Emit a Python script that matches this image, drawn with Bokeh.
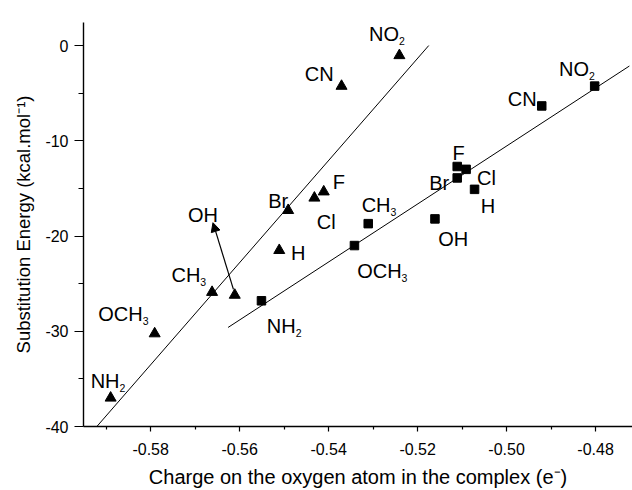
from bokeh.plotting import figure
from bokeh.models import Range1d, FixedTicker, Arrow, NormalHead, ColumnDataSource
from bokeh.core.properties import value
from bokeh.embed import file_html
from bokeh.resources import INLINE

# ---- data ----
substituents = ["NH2", "OCH3", "CH3", "OH", "H", "Br", "Cl", "F", "CN", "NO2"]

# triangles (series 1)
tri_x = [-0.5890, -0.5791, -0.5662, -0.5611, -0.5511, -0.5491, -0.5432, -0.5411, -0.5371, -0.5241]
tri_y = [-37.0, -30.25, -25.9, -26.2, -21.5, -17.3, -16.0, -15.35, -4.26, -1.04]

# squares (series 2)
sq_x = [-0.5551, -0.5342, -0.5311, -0.5161, -0.5072, -0.5111, -0.5091, -0.5111, -0.4921, -0.4802]
sq_y = [-26.8, -21.0, -18.7, -18.2, -15.1, -13.9, -13.0, -12.7, -6.34, -4.26]

# fitted lines (end points)
tri_fit_x = [-0.5921, -0.5175]
tri_fit_y = [-40.0, 0.0]
sq_fit_x = [-0.5626, -0.4724]
sq_fit_y = [-29.6, -2.15]

# arrow pointing from the OH triangle to its label
oh_arrow_x = [-0.5614, -0.5660]
oh_arrow_y = [-25.6, -18.6]

x_ticks = [-0.58, -0.56, -0.54, -0.52, -0.50, -0.48]
y_ticks = [-40, -30, -20, -10, 0]

# ---- label placement (screen px, style) ----
tri_dx = [-20, -56.4, -40.6, -46.7, 11.7, -20, 2.4, 9, -36.7, -30.3]
tri_dy = [-17.4, -19.3, -17.6, -80, 2.6, -9, 23.7, -9.4, -12, -21.7]
sq_dx = [5.4, 2.7, -6.6, 3.3, 6.3, -28, 11, -4.6, -34, -35.7]
sq_dy = [25.6, 25, -18.3, 20, 16.7, 5.3, 8.7, -13.3, -6.7, -16.7]

FONT = "Liberation Sans"
LBL = 20
SUB = 10.5
ARIAL_W = {"N": 0.722, "H": 0.722, "O": 0.778, "C": 0.722}


def split(s):
    if s[-1].isdigit():
        return s[:-1], s[-1]
    return s, ""


p = figure(width=632, height=490, output_backend="svg", toolbar_location=None,
           x_range=Range1d(-0.5951, -0.4717), y_range=Range1d(-40, 2.42),
           min_border_left=83, min_border_right=0, min_border_top=22, min_border_bottom=60)
p.outline_line_color = None
p.xgrid.visible = False
p.ygrid.visible = False
p.background_fill_color = "white"
p.border_fill_color = "white"

p.xaxis.ticker = FixedTicker(ticks=x_ticks, minor_ticks=[-0.59, -0.57, -0.55, -0.53, -0.51, -0.49, -0.47])
p.yaxis.ticker = FixedTicker(ticks=y_ticks, minor_ticks=[-35, -25, -15, -5])
p.xaxis.major_label_overrides = {t: f"{t:.2f}" for t in x_ticks}
p.yaxis.major_label_overrides = {t: f"{t}" for t in y_ticks}

for ax in (p.xaxis, p.yaxis):
    ax.axis_line_color = "black"
    ax.axis_line_width = 1.4
    ax.major_tick_line_color = "black"
    ax.minor_tick_line_color = "black"
    ax.major_tick_line_width = 1.2
    ax.minor_tick_line_width = 1.2
    ax.major_tick_in = 0
    ax.minor_tick_in = 0
    ax.major_label_text_font = FONT
    ax.major_label_text_font_size = "16px"
    ax.major_label_text_color = "black"
    ax.axis_label_text_font = FONT
    ax.axis_label_text_font_style = "normal"
    ax.axis_label_text_color = "black"

p.xaxis.axis_label_text_font_size = "20px"
p.yaxis.axis_label_text_font_size = "18.5px"
p.xaxis.major_tick_out = 5
p.xaxis.minor_tick_out = 3
p.yaxis.major_tick_out = 9
p.yaxis.minor_tick_out = 5
p.xaxis.major_label_standoff = 11
p.yaxis.major_label_standoff = 6
p.xaxis.axis_label_standoff = 8
p.yaxis.axis_label_standoff = 8
p.xaxis.axis_label = "Charge on the oxygen atom in the complex (e\u207b)"
p.yaxis.axis_label = "Substitution Energy (kcal.mol\u207b\u00b9)"

# fit lines
p.line(tri_fit_x, tri_fit_y, line_color="black", line_width=1)
p.line(sq_fit_x, sq_fit_y, line_color="black", line_width=1)

# markers
p.scatter(tri_x, tri_y, marker="triangle", size=11, fill_color="black", line_color="black")
p.scatter(sq_x, sq_y, marker="square", size=8.5, fill_color="black", line_color="black")

# arrow
p.add_layout(Arrow(end=NormalHead(size=9, fill_color="black", line_color="black", line_width=1),
                   x_start=oh_arrow_x[0], y_start=oh_arrow_y[0],
                   x_end=oh_arrow_x[1], y_end=oh_arrow_y[1],
                   line_color="black", line_width=1.2))


def add_labels(xs, ys, dxs, dys):
    mains, subs = zip(*[split(s) for s in substituents])
    src = ColumnDataSource(dict(x=xs, y=ys, t=list(mains), dx=dxs, dy=dys))
    p.text(x="x", y="y", text="t", x_offset="dx", y_offset="dy", source=src,
           text_font=value(FONT), text_font_size=f"{LBL}px", text_color="black",
           text_align="left", text_baseline="alphabetic")
    sx, sy, st, sdx, sdy = [], [], [], [], []
    for x, y, m, s, dx, dy in zip(xs, ys, mains, subs, dxs, dys):
        if s:
            w = sum(ARIAL_W.get(c, 0.6) for c in m) * LBL
            sx.append(x); sy.append(y); st.append(s)
            sdx.append(dx + w); sdy.append(dy + 7)
    src2 = ColumnDataSource(dict(x=sx, y=sy, t=st, dx=sdx, dy=sdy))
    p.text(x="x", y="y", text="t", x_offset="dx", y_offset="dy", source=src2,
           text_font=value(FONT), text_font_size=f"{SUB}px", text_color="black",
           text_align="left", text_baseline="alphabetic")


add_labels(tri_x, tri_y, tri_dx, tri_dy)
add_labels(sq_x, sq_y, sq_dx, sq_dy)

open("out.html", "w").write(file_html(p, INLINE))
